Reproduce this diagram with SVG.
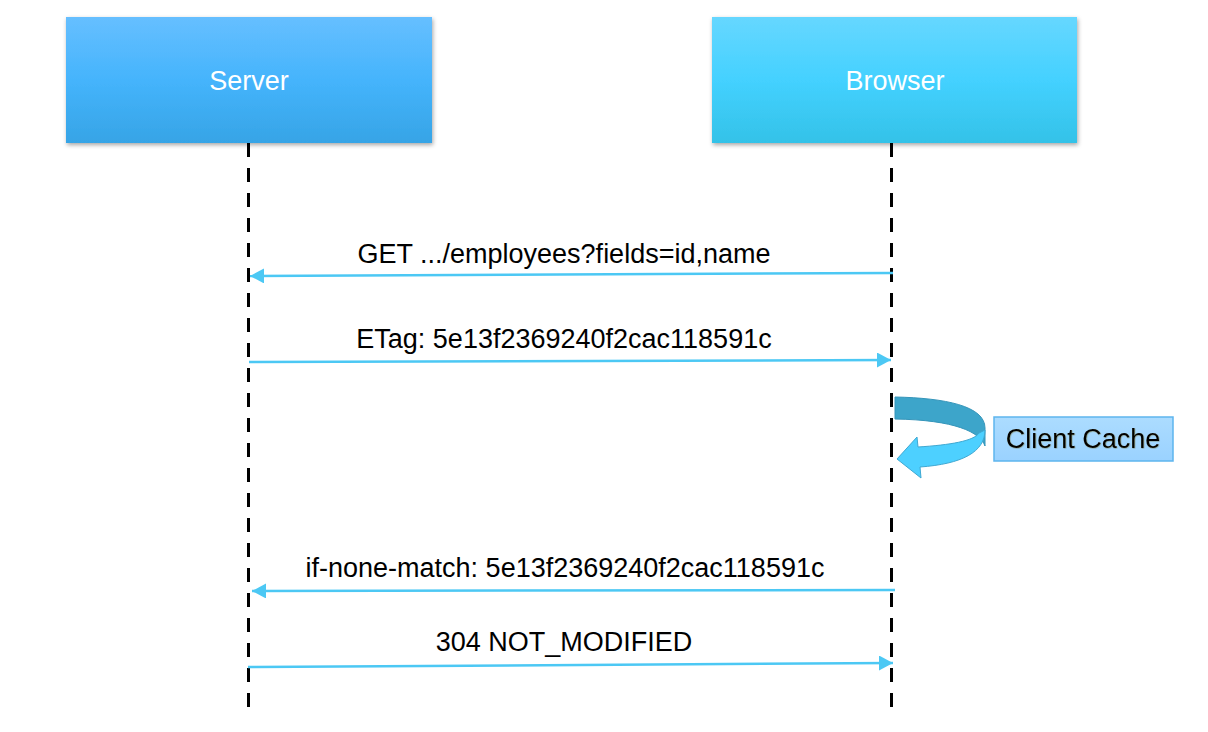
<svg xmlns="http://www.w3.org/2000/svg" width="1208" height="732" viewBox="0 0 1208 732">
  <style>
    .hdr { font-family: "Liberation Sans", Arial, sans-serif; font-size: 27px; fill: #ffffff; text-anchor: middle; }
    .lbl { font-family: "Liberation Sans", Arial, sans-serif; font-size: 27px; fill: #000000; text-anchor: middle; }
    .life { stroke: #000000; stroke-width: 3; stroke-dasharray: 14 11; fill: none; }
    .msg { stroke: #4CC8F4; stroke-width: 2.5; fill: none; marker-end: url(#arr); }
  </style>
  <defs>
    <linearGradient id="gSrv" x1="0" y1="0" x2="0" y2="1">
      <stop offset="0" stop-color="#66BFFF"/>
      <stop offset="0.5" stop-color="#45B4FC"/>
      <stop offset="1" stop-color="#36A4E6"/>
    </linearGradient>
    <linearGradient id="gBrw" x1="0" y1="0" x2="0" y2="1">
      <stop offset="0" stop-color="#66D7FF"/>
      <stop offset="0.5" stop-color="#44D1FF"/>
      <stop offset="1" stop-color="#33C2E8"/>
    </linearGradient>
    <linearGradient id="gCache" x1="0" y1="0" x2="0" y2="1">
      <stop offset="0" stop-color="#ACDCFF"/>
      <stop offset="1" stop-color="#9AD2FF"/>
    </linearGradient>
    <filter id="shadow" x="-5%" y="-5%" width="112%" height="120%">
      <feDropShadow dx="1" dy="2" stdDeviation="2" flood-color="#000000" flood-opacity="0.35"/>
    </filter>
    <filter id="tshadow" x="-5%" y="-20%" width="110%" height="140%">
      <feDropShadow dx="0.5" dy="0.5" stdDeviation="0.6" flood-color="#5a4a00" flood-opacity="0.5"/>
    </filter>
    <marker id="arr" markerUnits="userSpaceOnUse" markerWidth="15" markerHeight="16" refX="14" refY="7.5" orient="auto">
      <path d="M0,0 L14,7.5 L0,15 Z" fill="#4CC8F4"/>
    </marker>
  </defs>

  <g id="server">
    <rect x="66" y="17" width="366" height="126" fill="url(#gSrv)" filter="url(#shadow)"/>
    <text class="hdr" x="249" y="90">Server</text>
  </g>
  <g id="browser">
    <rect x="712" y="17" width="365" height="126" fill="url(#gBrw)" filter="url(#shadow)"/>
    <text class="hdr" x="895" y="90">Browser</text>
  </g>

  <g id="lifelines">
    <line class="life" x1="248.5" y1="143" x2="248.5" y2="712"/>
    <line class="life" x1="891.5" y1="143" x2="891.5" y2="712"/>
  </g>

  <g id="connectors">
    <path class="msg" d="M893,273 L250,276"/>
    <path class="msg" d="M249,362 L891,360"/>
    <path class="msg" d="M895,590 L252,591"/>
    <path class="msg" d="M248,667 L893,663"/>
  </g>

  <g id="labels">
    <text class="lbl" x="564" y="263">GET .../employees?fields=id,name</text>
    <text class="lbl" x="564" y="348">ETag: 5e13f2369240f2cac118591c</text>
    <text class="lbl" x="565" y="577">if-none-match: 5e13f2369240f2cac118591c</text>
    <text class="lbl" x="564" y="651">304 NOT_MODIFIED</text>
  </g>

  <g id="cache-loop">
    <path d="M895,397 C945,398 985,406 985,428 L985,446 C980,432 955,420 895,419 Z" fill="#3DA5CA" stroke="#3595BA" stroke-width="1"/>
    <path d="M985,430 C985,452 962,464 920,467 L921,478 L897,459 L917,437 L918,447 C950,445 974,441 979,433 Z" fill="#4DD0FF" stroke="#3FA8D2" stroke-width="1"/>
  </g>

  <g id="client-cache">
    <rect x="994" y="417" width="179" height="44" fill="url(#gCache)" stroke="#5DB5EE" stroke-width="1.5"/>
    <text class="lbl" x="1083" y="448" filter="url(#tshadow)">Client Cache</text>
  </g>
</svg>
